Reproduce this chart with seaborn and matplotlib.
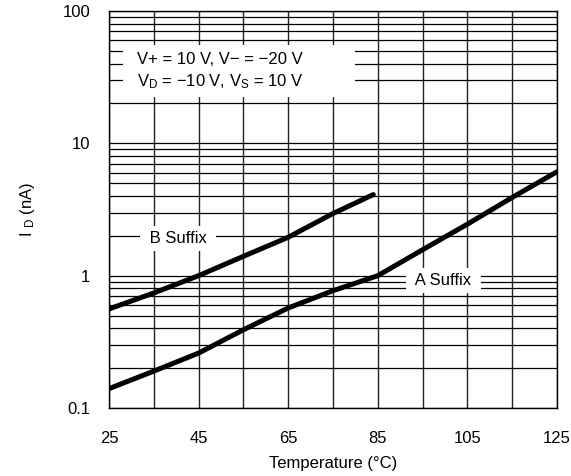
import numpy as np
import pandas as pd
import matplotlib
matplotlib.use("Agg")
import matplotlib.pyplot as plt
from matplotlib.ticker import LogLocator, NullFormatter, FixedLocator
from matplotlib.patches import Rectangle
import seaborn as sns

# ---- data ----
temp_a = [25, 35, 45, 55, 65, 75, 85, 95, 105, 115, 125]
id_a = [0.14, 0.19, 0.26, 0.39, 0.57, 0.77, 1.0, 1.57, 2.45, 3.9, 6.1]
temp_b = [25, 35, 45, 55, 65, 75, 84]
id_b = [0.56, 0.74, 1.0, 1.4, 1.95, 2.95, 4.1]

x_major = [25, 45, 65, 85, 105, 125]
x_minor = [35, 55, 75, 95, 115]
y_major = [0.1, 1, 10, 100]
y_major_labels = ["0.1", "1", "10", "100"]

cond_line1 = "V+ = 10 V, V\u2212 = \u221220 V"
cond_line2 = "V$_{\\mathrm{D}}$ = \u221210 V, V$_{\\mathrm{S}}$ = 10 V"
label_a = " A Suffix "
label_b = " B Suffix "

sns.set_theme(style="white")
plt.rcParams["font.family"] = ["Liberation Sans", "DejaVu Sans"]
plt.rcParams["mathtext.fontset"] = "custom"
plt.rcParams["mathtext.rm"] = "Liberation Sans"
plt.rcParams["mathtext.it"] = "Liberation Sans:italic"
plt.rcParams["mathtext.bf"] = "Liberation Sans:bold"
plt.rcParams["axes.unicode_minus"] = True

df_a = pd.DataFrame({"temp": temp_a, "id": id_a})
df_b = pd.DataFrame({"temp": temp_b, "id": id_b})

fig = plt.figure(figsize=(5.71, 4.76), dpi=100)
ax = fig.add_axes([109 / 571, 1 - 408 / 476, 448 / 571, 397 / 476])
ax.set_yscale("log")

sns.lineplot(data=df_a, x="temp", y="id", color="black", lw=3.6,
             solid_capstyle="round", solid_joinstyle="round", ax=ax, zorder=5)
sns.lineplot(data=df_b, x="temp", y="id", color="black", lw=3.6,
             solid_capstyle="round", solid_joinstyle="round", ax=ax, zorder=5)

ax.set_xlim(25, 125)
ax.set_ylim(0.1, 100)
ax.xaxis.set_major_locator(FixedLocator(x_major))
ax.xaxis.set_minor_locator(FixedLocator(x_minor))
ax.set_xticklabels([str(v) for v in x_major])
ax.yaxis.set_major_locator(FixedLocator(y_major))
ax.set_yticklabels(y_major_labels)
ax.yaxis.set_minor_locator(LogLocator(base=10, subs=range(2, 10)))
ax.yaxis.set_minor_formatter(NullFormatter())
ax.xaxis.set_minor_formatter(NullFormatter())

ax.grid(which="both", axis="y", color="black", lw=0.9)
ax.grid(which="both", axis="x", color="#222222", lw=1.0)
ax.set_axisbelow(True)
ax.tick_params(which="both", length=0, labelsize=12, colors="black")
ax.tick_params(axis="x", which="both", pad=16.5)
ax.tick_params(axis="y", which="both", pad=13.5)
for s in ax.spines.values():
    s.set_color("black")
    s.set_linewidth(1.0)

ax.set_xlabel("Temperature (\u00b0C)", fontsize=12, labelpad=7.5, color="black")
ax.set_ylabel(r"I $_{\mathrm{D}}$ (nA)", fontsize=12, color="black")
ax.yaxis.set_label_coords(-0.16, 0.5)

# condition box
ax.add_patch(Rectangle((0.031, 0.783), 0.518, 0.131, transform=ax.transAxes,
                       facecolor="white", edgecolor="none", zorder=3))
ax.text(0.0625, 0.877, cond_line1, transform=ax.transAxes, fontsize=12,
        ha="left", va="center", zorder=4, color="black")
ax.text(0.0625, 0.821, cond_line2, transform=ax.transAxes, fontsize=12,
        ha="left", va="center", zorder=4, color="black")

bbox = dict(boxstyle="square,pad=0.3", facecolor="white", edgecolor="none")
ax.text(40.4, 1.9, label_b, fontsize=12, ha="center", va="center",
        bbox=bbox, zorder=4, color="black")
ax.text(99.6, 0.92, label_a, fontsize=12, ha="center", va="center",
        bbox=bbox, zorder=4, color="black")

fig.savefig("out.png", dpi=100, facecolor="white")
